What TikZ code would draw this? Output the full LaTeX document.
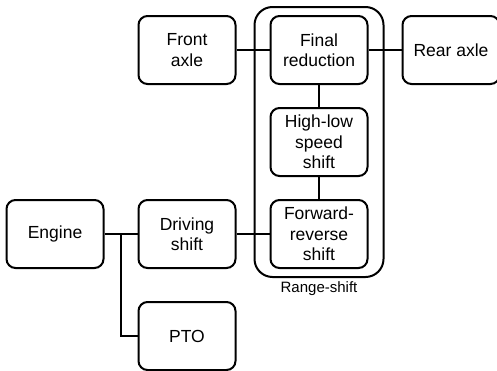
\documentclass[tikz,border=0pt]{standalone}
\usepackage{fontspec}
\setmainfont{Liberation Sans}
\usetikzlibrary{positioning,fit,calc}
\tikzset{
  blk/.style={draw, rounded corners=9pt, line width=2pt, align=center,
              minimum width=97pt, minimum height=68pt, inner sep=2pt,
              font=\fontsize{17.5}{20.5}\selectfont},
  grp/.style={draw, rounded corners=18pt, line width=2pt,
              inner xsep=15pt, inner ysep=8pt},
  link/.style={line width=2pt},
  lab/.style={font=\fontsize{15}{18}\selectfont, inner sep=1pt},
}
\begin{document}
\begin{tikzpicture}[node distance=33pt]
  \useasboundingbox (0,0) rectangle (497pt,-370pt);

  \node[blk] (fin) at (319pt,-50pt) {Final\\reduction};
  \node[blk, left=of fin] (front) {Front\\axle};
  \node[blk, right=of fin] (rear) {Rear axle};
  \node[blk, below=22pt of fin] (hilo) {High-low\\speed\\shift};
  \node[blk, below=22pt of hilo] (fwd) {Forward-\\reverse\\shift};
  \node[blk, left=of fwd] (drv) {Driving\\shift};
  \node[blk, left=of drv] (eng) {Engine};
  \node[blk, below=32pt of drv] (pto) {PTO};

  % range-shift group
  \node[grp, fit=(fin) (hilo) (fwd)] (range) {};
  \node[lab, below=2pt of range] (rangelab) {Range-shift};

  \draw[link] (front) -- (fin);
  \draw[link] (fin) -- (rear);
  \draw[link] (fin) -- (hilo);
  \draw[link] (hilo) -- (fwd);
  \draw[link] (drv) -- (fwd);
  \draw[link] (eng) -- (drv);

  % PTO branch
  \coordinate (br) at ($(eng.east)!0.5!(drv.west)$);
  \draw[link] (br) |- (pto.west);
\end{tikzpicture}
\end{document}
